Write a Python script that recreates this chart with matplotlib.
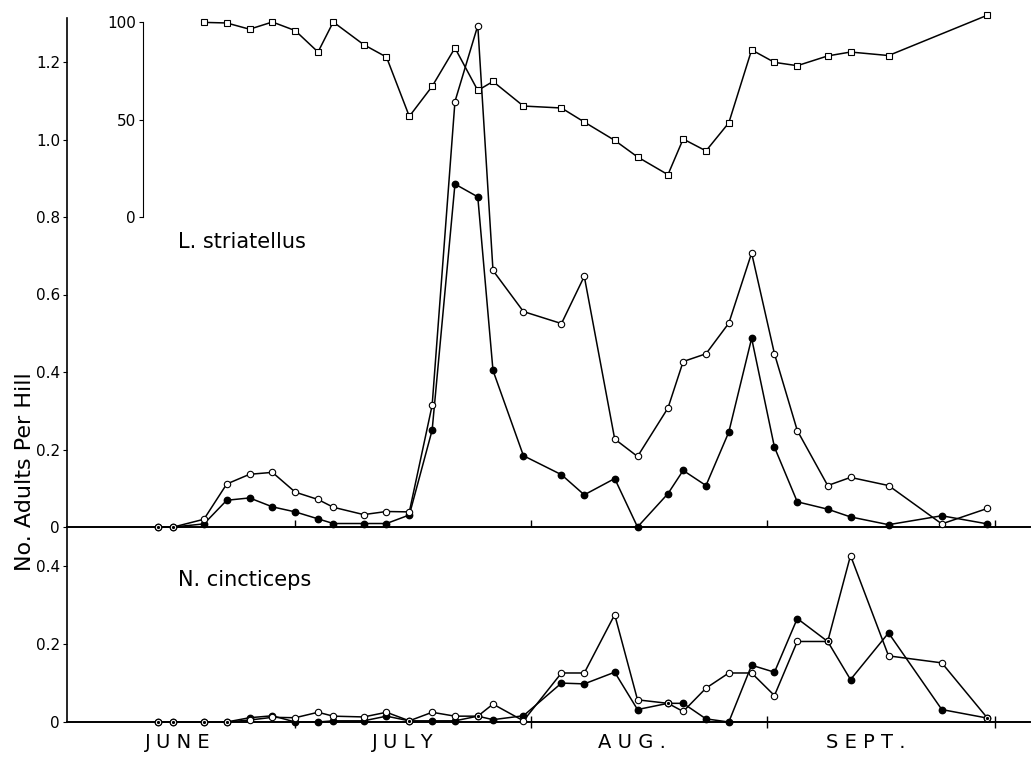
import numpy as np
import matplotlib.pyplot as plt

# sampling dates, days counted from June 1
days = [12, 14, 18, 21, 24, 27, 30, 33, 35, 39, 42, 45, 48, 51, 54, 56, 60,
        65, 68, 72, 75, 79, 81, 84, 87, 90, 93, 96, 100, 103, 108, 115, 121]

# L. striatellus
ls_open = [0, 0, 0.02, 0.111, 0.136, 0.141, 0.090, 0.071, 0.051, 0.032, 0.040,
           0.039, 0.314, 1.098, 1.294, 0.662, 0.556, 0.525, 0.647, 0.227, 0.182,
           0.307, 0.427, 0.447, 0.526, 0.707, 0.447, 0.249, 0.107, 0.128, 0.107,
           0.008, 0.048]
ls_filled = [0, 0, 0.008, 0.069, 0.075, 0.052, 0.039, 0.021, 0.009, 0.009, 0.009,
             0.031, 0.250, 0.885, 0.852, 0.404, 0.184, 0.135, 0.083, 0.125, 0.0,
             0.086, 0.146, 0.107, 0.245, 0.487, 0.206, 0.065, 0.046, 0.026, 0.006,
             0.029, 0.008]

# percentage (inset scale)
pct_days = [18, 21, 24, 27, 30, 33, 35, 39, 42, 45, 48, 51, 54, 56, 60, 65, 68,
            72, 75, 79, 81, 84, 87, 90, 93, 96, 100, 103, 108, 121]
pct = [99.8, 99.5, 96.3, 100, 95.6, 84.6, 100, 88.4, 82, 51.6, 67, 86.7, 64.9,
       69.5, 56.9, 55.9, 48.7, 39.3, 30.8, 21.7, 40, 33.9, 48.3, 85.7, 79.3, 77.6,
       82.6, 84.6, 82.8, 103.5]

# N. cincticeps
nc_open = [0, 0, 0, 0, 0.005, 0.012, 0.011, 0.025, 0.015, 0.013, 0.025, 0.003,
           0.025, 0.015, 0.015, 0.046, 0.003, 0.126, 0.126, 0.276, 0.057, 0.048,
           0.027, 0.087, 0.126, 0.126, 0.068, 0.207, 0.207, 0.428, 0.170, 0.152,
           0.010]
nc_filled = [0, 0, 0, 0, 0.011, 0.016, 0, 0, 0.003, 0.003, 0.015, 0.003, 0.003,
             0.003, 0.015, 0.006, 0.016, 0.100, 0.098, 0.128, 0.032, 0.048, 0.048,
             0.008, 0.0, 0.146, 0.128, 0.266, 0.207, 0.109, 0.229, 0.032, 0.010]

month_edges = [30, 61, 92, 122]
month_pos = [14.6, 44.2, 74.3, 105]
month_names = ['J U N E', 'J U L Y', 'A U G .', 'S E P T .']

W, H = 1032, 758
x0, x1 = 67, 1030
pxday = 7.607
xmax = (x1 - x0) / pxday

fig = plt.figure(figsize=(W / 100, H / 100), dpi=100)
plt.rcParams['font.family'] = 'DejaVu Sans'

ax1 = fig.add_axes([x0 / W, 1 - 527 / H, (x1 - x0) / W, (527 - 18) / H])
ax2 = fig.add_axes([x0 / W, 1 - 722 / H, (x1 - x0) / W, (722 - 527) / H])
ax3 = fig.add_axes([143 / W, 1 - 217 / H, (x1 - 143) / W, (217 - 22) / H])


def draw(ax, o, f):
    ax.plot(days, f, '-', color='black', lw=1.1, marker='o', ms=4.6,
            mfc='black', mec='black', zorder=3, clip_on=False)
    ax.plot(days, o, '-', color='black', lw=1.1, marker='o', ms=4.6,
            mfc='white', mec='black', mew=0.8, zorder=4, clip_on=False)
    same = [i for i in range(len(days)) if abs(o[i] - f[i]) < 1e-9]
    ax.plot([days[i] for i in same], [o[i] for i in same], 'o', color='black',
            ms=1.3, zorder=5, clip_on=False)


draw(ax1, ls_open, ls_filled)
draw(ax2, nc_open, nc_filled)

ax1.set_xlim(0, xmax)
ax1.set_ylim(0, (527 - 18) / 387.5)
ax1.set_yticks([0, 0.2, 0.4, 0.6, 0.8, 1.0, 1.2])
ax1.set_yticklabels(['0', '0.2', '0.4', '0.6', '0.8', '1.0', '1.2'])
ax1.set_xticks(month_edges)
ax1.set_xticklabels([])
ax1.tick_params(axis='x', direction='in', length=5, width=1)
ax1.tick_params(axis='y', direction='out', length=3, width=0.8, labelsize=11, pad=2)
ax1.text(0.115, 0.56, 'L. striatellus', transform=ax1.transAxes, fontsize=15,
         va='center')

ax2.set_xlim(0, xmax)
ax2.set_ylim(0, (722 - 527) / 389)
ax2.set_yticks([0, 0.2, 0.4])
ax2.set_yticklabels(['0', '0.2', '0.4'])
ax2.set_xticks(month_edges)
ax2.set_xticklabels([])
ax2.set_xticks(month_pos, minor=True)
ax2.set_xticklabels(month_names, minor=True, fontsize=14)
ax2.tick_params(axis='x', which='major', direction='inout', length=8, width=1)
ax2.tick_params(axis='x', which='minor', length=0, pad=8)
ax2.tick_params(axis='y', direction='out', length=3, width=0.8, labelsize=11, pad=2)
ax2.text(0.115, 0.728, 'N. cincticeps', transform=ax2.transAxes, fontsize=15,
         va='center')

for ax in (ax1, ax2):
    ax.spines['top'].set_visible(False)
    ax.spines['right'].set_visible(False)
    ax.spines['left'].set_linewidth(1.2)
    ax.spines['bottom'].set_linewidth(1.4)
    ax.patch.set_alpha(0)

# inset percentage scale
ax3.plot(pct_days, pct, '-', color='black', lw=1.1, marker='s', ms=4.4,
         mfc='white', mec='black', mew=0.8, clip_on=False)
ax3.set_xlim((143 - x0) / pxday, xmax)
ax3.set_ylim(0, 100)
ax3.set_yticks([0, 50, 100])
ax3.set_xticks([])
for s in ('top', 'right', 'bottom'):
    ax3.spines[s].set_visible(False)
ax3.spines['left'].set_linewidth(0.8)
ax3.tick_params(axis='y', direction='out', length=3, width=0.8, labelsize=11, pad=2)
ax3.patch.set_alpha(0)

fig.text(25 / W, 1 - 472 / H, 'No. Adults Per Hill', rotation=90,
         ha='center', va='center', fontsize=16)

fig.savefig('out.png', dpi=100)
